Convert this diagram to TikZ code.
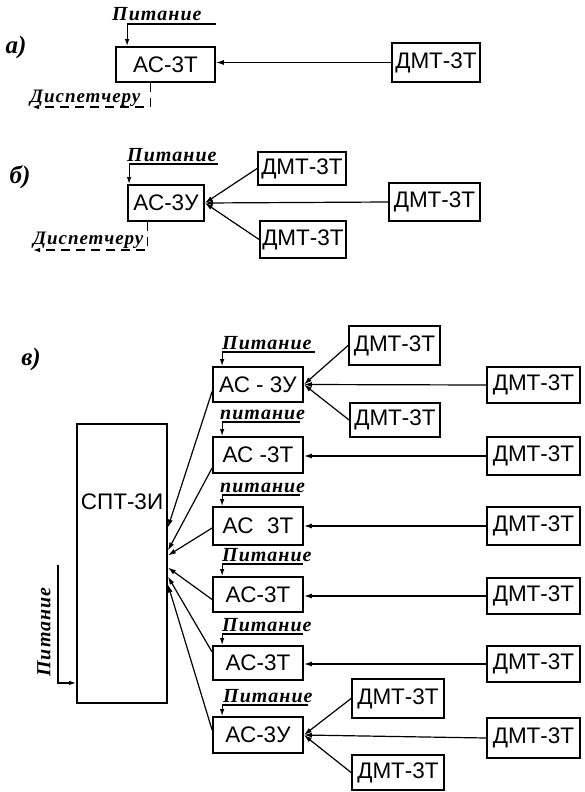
\documentclass[tikz,border=0pt]{standalone}
\usepackage{fontspec}
\setmainfont{Liberation Serif}
\newfontfamily\boxfont{Liberation Sans}
\newfontfamily\notefont{Liberation Serif}[LetterSpace=5]
\usetikzlibrary{arrows.meta,calc}
\tikzset{
 unit/.style={draw, line width=1.8pt, inner sep=0pt, font=\boxfont\fontsize{22.5}{25}\selectfont},
 conn/.style={line width=1.2pt, -{Latex[length=8pt,width=5pt]}},
 feed/.style={line width=1.2pt, -{Latex[length=7pt,width=4.5pt]}},
 note/.style={font=\notefont\bfseries\itshape\fontsize{20}{23}\selectfont, inner sep=0pt},
 dispnote/.style={font=\notefont\bfseries\itshape\fontsize{19}{22}\selectfont, inner sep=0pt},
 smallnote/.style={font=\notefont\bfseries\itshape\fontsize{20}{23}\selectfont, inner sep=0pt},
 partlbl/.style={font=\bfseries\itshape\fontsize{25}{28}\selectfont, inner sep=0pt},
 disp/.style={line width=1.2pt, dash pattern=on 9pt off 6pt, -{Latex[length=7pt,width=4.5pt]}},
}
\begin{document}
\begin{tikzpicture}[x=1pt,y=-1pt]
\useasboundingbox (0,0) rectangle (584,792);

% ---------- part a ----------
\node[partlbl] (la) at (16,47) {а)};
\node[unit, minimum width=99pt, minimum height=35pt] (aa) at (165.5,64.5) {АС-3Т};
\node[unit, minimum width=88pt, minimum height=39pt] (ad) at (436,62.5) {ДМТ-3Т};
\node[note, anchor=base west] (apt) at (112,21) {Питание};
\coordinate (apf) at (216,24);
\draw[feed] (apf) -| ($(aa.north west)+(12,0)$);
\draw[conn] (ad.west) -- (ad.west -| aa.east);
\node[dispnote, anchor=base west] (adt) at (30,102) {Диспетчеру};
\coordinate (adend) at (32,107);
\draw[disp] ($(aa.south west)+(35,0)$) |- (adend);

% ---------- part b ----------
\node[partlbl] (lb) at (20,177) {б)};
\node[unit, minimum width=76pt, minimum height=36pt] (ba) at (166,203) {АС-3У};
\node[unit, minimum width=88pt, minimum height=33pt] (bt) at (302,168.5) {ДМТ-3Т};
\node[unit, minimum width=91pt, minimum height=38pt] (br) at (434.5,202) {ДМТ-3Т};
\node[unit, minimum width=86pt, minimum height=37pt] (bb) at (303,239.5) {ДМТ-3Т};
\node[note, anchor=base west] (bpt) at (127,161) {Питание};
\coordinate (bpf) at (218,164);
\draw[feed] (bpf) -| ($(ba.north west)+(2,0)$);
\draw[conn] (bt.west) -- (ba.east);
\draw[conn] (br.west) -- (ba.east);
\draw[conn] (bb.west) -- (ba.east);
\node[dispnote, anchor=base west] (bdt) at (33,244) {Диспетчеру};
\coordinate (bdend) at (33,250);
\draw[disp] ($(ba.south west)+(20,0)$) |- (bdend);

% ---------- part v ----------
\node[partlbl] (lv) at (31,359) {в)};
\node[unit, minimum width=90pt, minimum height=279pt] (spt) at (122,563.5) {};
\node[font=\boxfont\fontsize{22.5}{25}\selectfont, inner sep=0pt] (sptt) at (122,502) {СПТ-3И};
\node[note, rotate=90] (spp) at (44,632) {Питание};
\coordinate (spf) at (58,565);
\draw[feed] (spf) |- ($(spt.south west)+(0,-21)$);

% AC units
\node[unit, minimum width=90pt, minimum height=35pt] (c1) at (258,384.5) {АС - 3У};
\node[unit, minimum width=90pt, minimum height=36pt] (c2) at (258,455) {АС -3Т};
\node[unit, minimum width=90pt, minimum height=38pt] (c3) at (258,526) {АС\hspace{0.6em}3Т};
\node[unit, minimum width=90pt, minimum height=35pt] (c4) at (258,594.5) {АС-3Т};
\node[unit, minimum width=90pt, minimum height=34pt] (c5) at (258,663) {АС-3Т};
\node[unit, minimum width=90pt, minimum height=36pt] (c6) at (258,735) {АС-3У};

% power labels and feeds
\node[smallnote, anchor=base west] (p1) at (222,349) {Питание};
\node[smallnote, anchor=base west] (p2) at (220,419) {питание};
\node[smallnote, anchor=base west] (p3) at (220,492) {питание};
\node[smallnote, anchor=base west] (p4) at (222,561) {Питание};
\node[smallnote, anchor=base west] (p5) at (222,631) {Питание};
\node[smallnote, anchor=base west] (p6) at (223,702) {Питание};
\coordinate (f1) at (315,352);
\coordinate (f2) at (300,422);
\coordinate (f3) at (300,495);
\coordinate (f4) at (303,564);
\coordinate (f5) at (303,634);
\coordinate (f6) at (308,705);
\draw[feed] (f1) -| ($(c1.north west)+(10,0)$);
\draw[feed] (f2) -| ($(c2.north west)+(10,0)$);
\draw[feed] (f3) -| ($(c3.north west)+(10,0)$);
\draw[feed] (f4) -| ($(c4.north west)+(10,0)$);
\draw[feed] (f5) -| ($(c5.north west)+(10,0)$);
\draw[feed] (f6) -| ($(c6.north west)+(10,0)$);

% right DMT column
\node[unit, minimum width=93pt, minimum height=36pt] (r1) at (533.5,385) {ДМТ-3Т};
\node[unit, minimum width=93pt, minimum height=38pt] (r2) at (533.5,456) {ДМТ-3Т};
\node[unit, minimum width=93pt, minimum height=38pt] (r3) at (533.5,526) {ДМТ-3Т};
\node[unit, minimum width=93pt, minimum height=36pt] (r4) at (533.5,596) {ДМТ-3Т};
\node[unit, minimum width=93pt, minimum height=36pt] (r5) at (533.5,664) {ДМТ-3Т};
\node[unit, minimum width=93pt, minimum height=40pt] (r6) at (533.5,738) {ДМТ-3Т};

% extra DMT for AC-3U units
\node[unit, minimum width=91pt, minimum height=39pt] (t1) at (394.5,345.5) {ДМТ-3Т};
\node[unit, minimum width=90pt, minimum height=34pt] (b1) at (395,420) {ДМТ-3Т};
\node[unit, minimum width=92pt, minimum height=39pt] (t6) at (398,698.5) {ДМТ-3Т};
\node[unit, minimum width=92pt, minimum height=35pt] (b6) at (398,772.5) {ДМТ-3Т};

% DMT -> AC connectors
\draw[conn] (t1.west) -- (c1.east);
\draw[conn] (r1.west) -- (c1.east);
\draw[conn] (b1.west) -- (c1.east);
\draw[conn] (r2.west) -- (r2.west -| c2.east);
\draw[conn] (r3.west) -- (r3.west -| c3.east);
\draw[conn] (r4.west) -- (r4.west -| c4.east);
\draw[conn] (r5.west) -- (r5.west -| c5.east);
\draw[conn] (t6.west) -- (c6.east);
\draw[conn] (r6.west) -- (c6.east);
\draw[conn] (b6.west) -- (c6.east);

% AC -> SPT connectors
\draw[conn] ($(c1.west)+(0,7)$) -- ($(spt.east)+(0,-36)$);
\draw[conn] ($(c2.west)+(0,13)$) -- ($(spt.east)+(0,-13)$);
\draw[conn] ($(c3.west)+(0,2)$) -- ($(spt.east)+(0,-8)$);
\draw[conn] ($(c4.west)+(0,5)$) -- ($(spt.east)+(0,4)$);
\draw[conn] ($(c5.west)+(0,-11)$) -- ($(spt.east)+(0,13)$);
\draw[conn] ($(c6.west)+(0,-5)$) -- ($(spt.east)+(0,21)$);
\end{tikzpicture}
\end{document}
